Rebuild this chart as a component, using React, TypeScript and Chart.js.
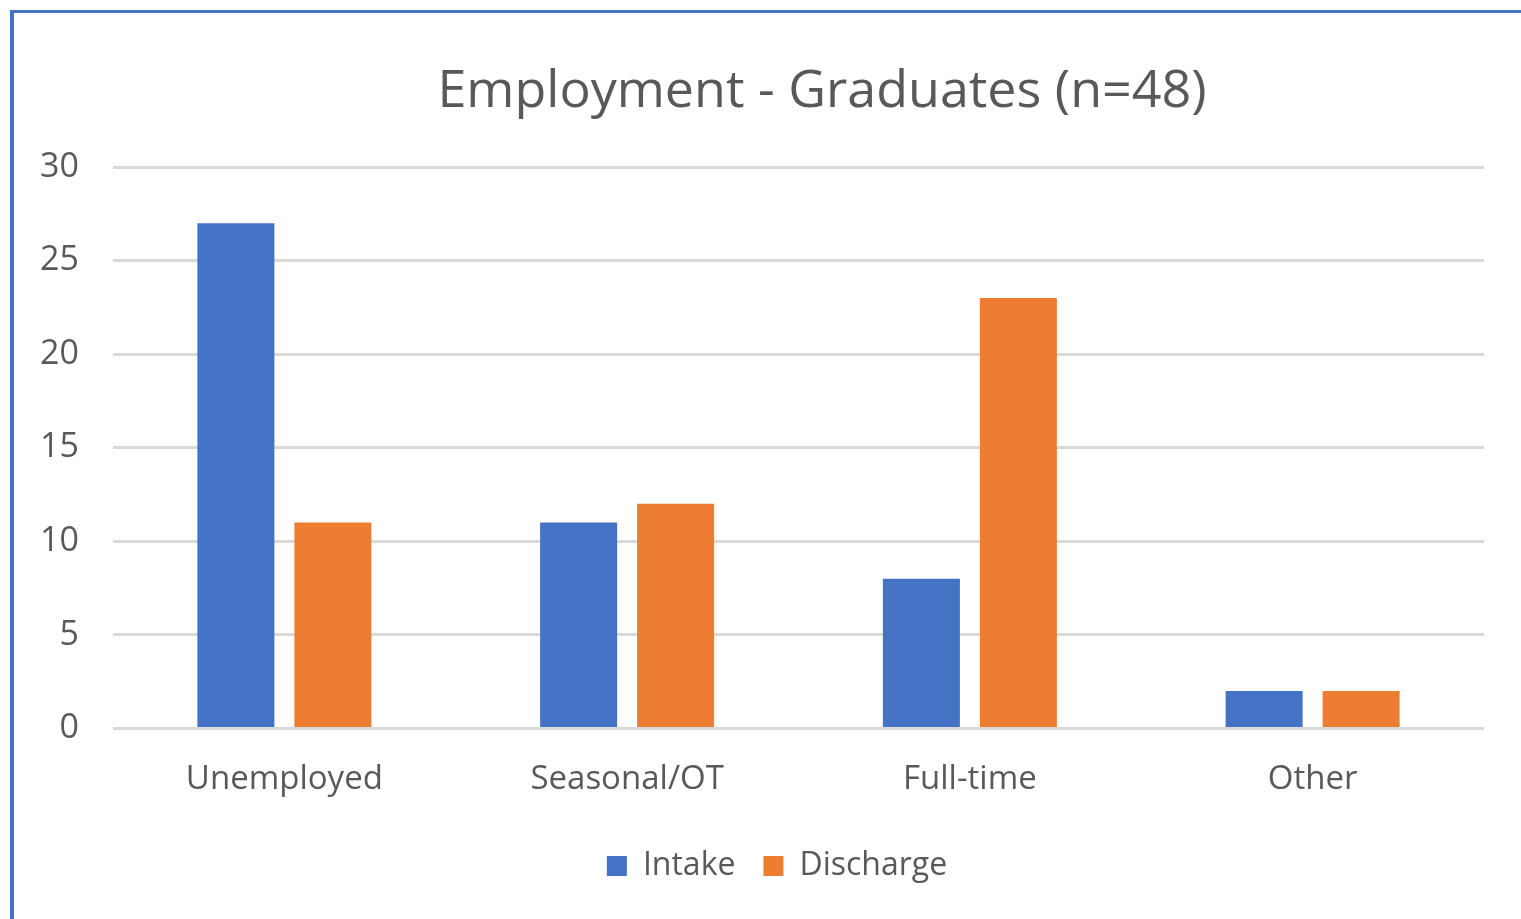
import React, { useEffect, useRef } from "react";
import { Chart, registerables } from "chart.js";

Chart.register(...registerables);

const categories = ["Unemployed", "Seasonal/OT", "Full-time", "Other"];
const intake = [27, 11, 8, 2];
const discharge = [11, 12, 23, 2];
const seriesNames = ["Intake", "Discharge"];
const titleText = "Employment - Graduates (n=48)";

const FONT = "'Open Sans', sans-serif";
const TEXT = "#595959";

const titlePlugin = {
  id: "offsetTitle",
  afterLayout(chart: any) {
    // legend in the original sits a little right of the canvas centre
    const l = chart.legend;
    if (l) { l.left += 25; l.right += 25; }
  },
  afterDraw(chart: any) {
    const ctx = chart.ctx;
    ctx.save();
    ctx.font = `normal 52px ${FONT}`;
    ctx.fillStyle = TEXT;
    ctx.textAlign = "center";
    ctx.textBaseline = "alphabetic";
    ctx.fillText(titleText, 822, 107);
    ctx.restore();
  },
};

export default function App() {
  const ref = useRef<HTMLCanvasElement | null>(null);
  useEffect(() => {
    if (!ref.current) return;
    const chart = new Chart(ref.current, {
      type: "bar",
      data: {
        labels: categories,
        datasets: [
          { label: seriesNames[0], data: intake, backgroundColor: "#4472C4", borderWidth: 0 },
          { label: seriesNames[1], data: discharge, backgroundColor: "#ED7D31", borderWidth: 0 },
        ],
      },
      plugins: [titlePlugin],
      options: {
        animation: false,
        responsive: false,
        maintainAspectRatio: false,
        layout: { padding: { left: 20, right: 37, top: 167, bottom: 27 } },
        datasets: { bar: { categoryPercentage: 0.566, barPercentage: 0.794 } },
        plugins: {
          title: { display: false },
          legend: {
            position: "bottom",
            labels: {
              color: TEXT,
              font: { family: FONT, size: 32 },
              boxWidth: 20,
              boxHeight: 20,
              padding: 28,
            },
          },
          tooltip: { enabled: false },
        },
        scales: {
          x: {
            grid: { display: false },
            border: { display: false },
            ticks: { color: TEXT, font: { family: FONT, size: 33 }, padding: 23 },
          },
          y: {
            min: 0,
            max: 30,
            ticks: { stepSize: 5, color: TEXT, font: { family: FONT, size: 34 }, padding: 34 },
            grid: { color: "#D9D9D9", lineWidth: 3, drawTicks: false },
            border: { display: false },
            afterFit: (s: any) => { s.width = 93; },
          },
        },
      },
    });
    return () => chart.destroy();
  }, []);
  return (
    <div style={{ position: "fixed", left: 0, top: 0, width: 1521, height: 919, background: "#fff" }}>
      <div style={{ position: "absolute", left: 10, top: 10, right: 0, bottom: 0, borderTop: "3px solid #4472C4", borderLeft: "4px solid #4472C4" }} />
      <canvas ref={ref} width={1521} height={919} style={{ position: "absolute", left: 0, top: 0 }} />
    </div>
  );
}
